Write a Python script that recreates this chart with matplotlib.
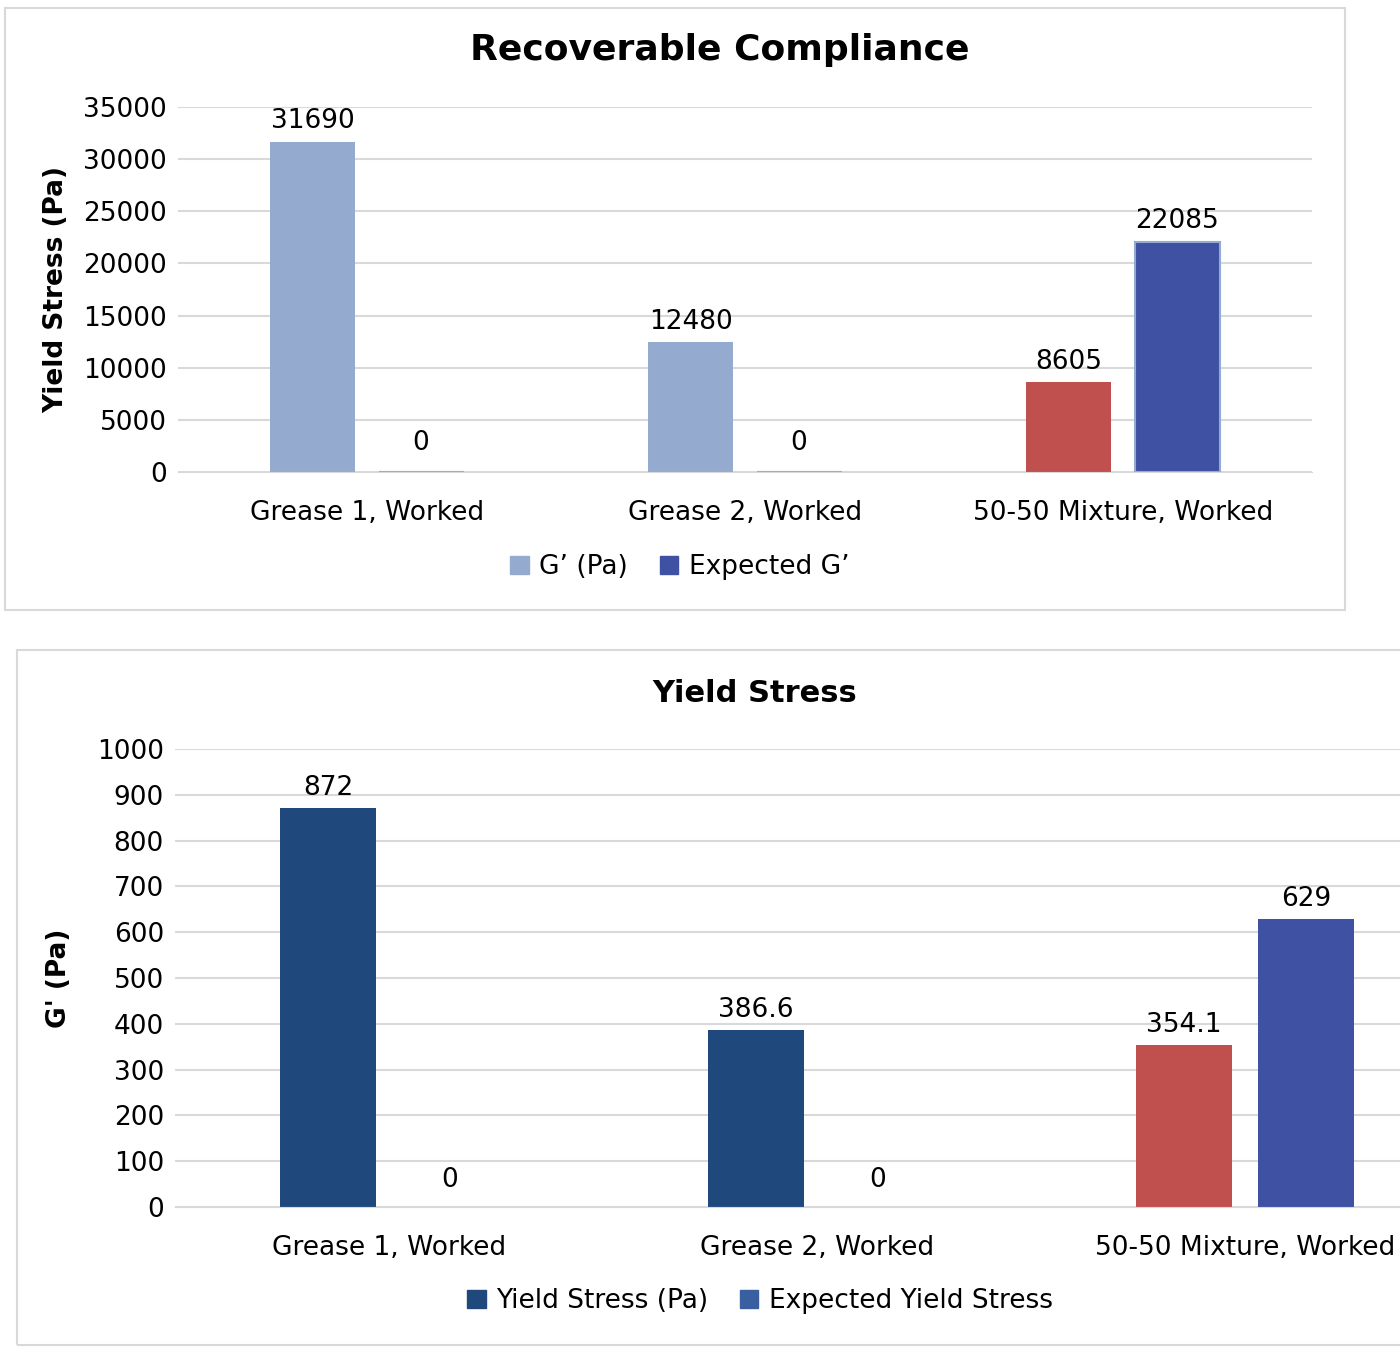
import matplotlib.pyplot as plt
from matplotlib.patches import Rectangle, Patch
import numpy as np

plt.rcParams['font.family'] = ['Liberation Sans Narrow', 'DejaVu Sans']

categories = ["Grease 1, Worked", "Grease 2, Worked", "50-50 Mixture, Worked"]
g_vals = [31690, 12480, 8605]
g_expected = [0, 0, 22085]
ys_vals = [872, 386.6, 354.1]
ys_expected = [0, 0, 629]
ys_labels = ["872", "386.6", "354.1"]
ys_exp_labels = ["0", "0", "629"]

W, H = 1400, 1353
fig = plt.figure(figsize=(14, 13.53), dpi=100)
def fx(x): return x / W
def fy(y): return 1 - y / H

fig.patches.append(Rectangle((fx(5), fy(610)), fx(1340), (610-8)/H, transform=fig.transFigure,
                             fill=False, edgecolor='#D9D9D9', lw=1.5))
fig.patches.append(Rectangle((fx(17), fy(1345)), fx(1400), (1345-650)/H, transform=fig.transFigure,
                             fill=False, edgecolor='#D9D9D9', lw=1.5))

light = '#95AACF'; dark = '#3F51A3'; red = '#C0504D'; navy = '#1F497D'
x = np.arange(3)

# top
ax1 = fig.add_axes([fx(178), fy(472), fx(1312-178), (472-107)/H])
w, off = 0.225, 0.143
c1 = [light, light, red]
ax1.bar(x - off, g_vals, w, color=c1)
ax1.bar(x + off, g_expected, w, color=dark, edgecolor=light, lw=1.5)
for i in range(3):
    ax1.text(x[i]-off, g_vals[i] + 700, f"{g_vals[i]}", ha='center', va='bottom', fontsize=19)
    ax1.text(x[i]+off, g_expected[i] + (700 if g_expected[i] else 1500), f"{g_expected[i]}",
             ha='center', va='bottom', fontsize=19)
ax1.set_xlim(-0.5, 2.5); ax1.set_ylim(0, 35000)
ax1.set_yticks(range(0, 35001, 5000))
ax1.set_xticks(x, categories)
ax1.yaxis.grid(True, color='#D9D9D9', lw=1.5); ax1.set_axisbelow(True)
for s in ax1.spines.values(): s.set_visible(False)
ax1.spines['bottom'].set_visible(True); ax1.spines['bottom'].set_color('#D9D9D9')
ax1.tick_params(length=0, labelsize=19, pad=8)
ax1.tick_params(axis='x', pad=20)
ax1.set_ylabel("Yield Stress (Pa)", fontsize=19, fontweight='bold', labelpad=10)
fig.text(fx(720), fy(50), "Recoverable Compliance", ha='center', va='center', fontsize=26, fontweight='bold')
fig.legend(handles=[Patch(color=light, label="G’ (Pa)"), Patch(color=dark, label="Expected G’")],
           loc='center', bbox_to_anchor=(fx(680), fy(567)), ncol=2, frameon=False, fontsize=19,
           handlelength=0.7, handleheight=0.7, columnspacing=1.2, handletextpad=0.4)

# bottom
ax2 = fig.add_axes([fx(175), fy(1207), 1 - fx(175), (1207-749)/H])
w2, off2 = 0.224, 0.1425
c2 = [navy, navy, red]
ax2.bar(x - off2, ys_vals, w2, color=c2)
ax2.bar(x + off2, ys_expected, w2, color=dark)
for i in range(3):
    ax2.text(x[i]-off2, ys_vals[i] + 15, ys_labels[i], ha='center', va='bottom', fontsize=19)
    ax2.text(x[i]+off2, ys_expected[i] + (15 if ys_expected[i] else 30), ys_exp_labels[i],
             ha='center', va='bottom', fontsize=19)
ax2.set_xlim(-0.5, (1400-175)/428 - 0.5); ax2.set_ylim(0, 1000)
ax2.set_yticks(range(0, 1001, 100))
ax2.set_xticks(x, categories)
ax2.yaxis.grid(True, color='#D9D9D9', lw=1.5); ax2.set_axisbelow(True)
for s in ax2.spines.values(): s.set_visible(False)
ax2.spines['bottom'].set_visible(True); ax2.spines['bottom'].set_color('#D9D9D9')
ax2.tick_params(length=0, labelsize=19, pad=8)
ax2.tick_params(axis='x', pad=20)
ax2.set_ylabel("G' (Pa)", fontsize=19, fontweight='bold', labelpad=18)
fig.text(fx(755), fy(693), "Yield Stress", ha='center', va='center', fontsize=22, fontweight='bold')
fig.legend(handles=[Patch(color=navy, label="Yield Stress (Pa)"), Patch(color='#3A5FA0', label="Expected Yield Stress")],
           loc='center', bbox_to_anchor=(fx(760), fy(1301)), ncol=2, frameon=False, fontsize=19,
           handlelength=0.7, handleheight=0.7, columnspacing=1.2, handletextpad=0.4)

fig.savefig("out.png", dpi=100)
